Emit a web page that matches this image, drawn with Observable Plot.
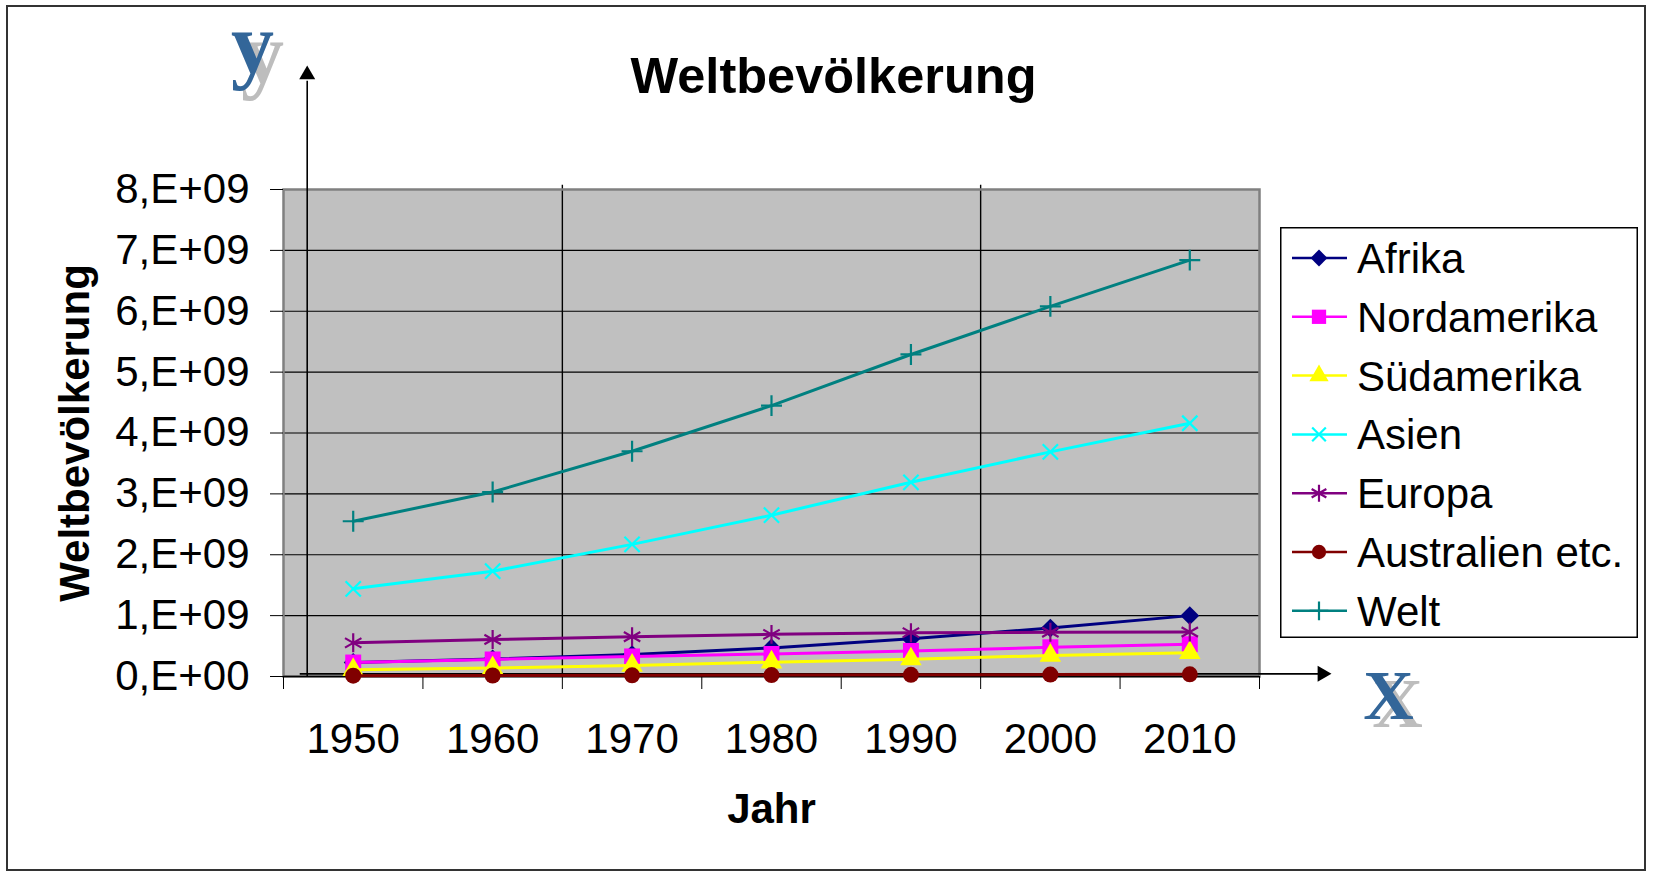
<!DOCTYPE html>
<html>
<head>
<meta charset="utf-8">
<script src="https://cdn.jsdelivr.net/npm/d3@7"></script>
<script src="https://cdn.jsdelivr.net/npm/@observablehq/plot@0.6"></script>
<style>
  body { margin: 0; background: #fff; }
  #wrap { position: relative; width: 1653px; height: 872px; overflow: hidden; font-family: 'Liberation Sans', Arial, sans-serif; }
  #border { position: absolute; left: 6px; top: 5px; width: 1640px; height: 866px; box-sizing: border-box; border: 2px solid #333; pointer-events: none; }
</style>
</head>
<body>
<div id="wrap"><div id="border"></div></div>
<script>
// ---- data ----
const years = [1950, 1960, 1970, 1980, 1990, 2000, 2010];
const afrika      = [0.229e9, 0.287e9, 0.360e9, 0.468e9, 0.622e9, 0.795e9, 1.000e9];
const nordamerika = [0.230e9, 0.280e9, 0.330e9, 0.370e9, 0.420e9, 0.480e9, 0.530e9];
const suedamerika = [0.110e9, 0.140e9, 0.180e9, 0.235e9, 0.285e9, 0.345e9, 0.390e9];
const asien       = [1.44e9, 1.73e9, 2.17e9, 2.65e9, 3.19e9, 3.69e9, 4.16e9];
const europa      = [0.553e9, 0.608e9, 0.652e9, 0.692e9, 0.720e9, 0.726e9, 0.730e9];
const australien  = [0.013e9, 0.016e9, 0.019e9, 0.023e9, 0.027e9, 0.031e9, 0.036e9];
const welt        = [2.55e9, 3.03e9, 3.70e9, 4.45e9, 5.29e9, 6.08e9, 6.84e9];

const seriesNames = ["Afrika", "Nordamerika", "Südamerika", "Asien", "Europa", "Australien etc.", "Welt"];
const seriesValues = [afrika, nordamerika, suedamerika, asien, europa, australien, welt];

const yTicks = [0, 1e9, 2e9, 3e9, 4e9, 5e9, 6e9, 7e9, 8e9];
const xTickLabels = [1950, 1960, 1970, 1980, 1990, 2000, 2010];
const xTickMarks = [1945, 1955, 1965, 1975, 1985, 1995, 2005, 2015];
const dividerYears = [1965, 1995];

const titleText = "Weltbevölkerung";
const yLabelText = "Weltbevölkerung";
const xLabelText = "Jahr";
const yLetter = "y";
const xLetter = "X";

// hand-drawn axis arrows (data coordinates)
const vArrowYear = 1946.7, vArrowTop = 9.78e9, vArrowHead = 9.886e9;
const hArrowValue = 0.044e9, hArrowStart = 1946.2, hArrowEnd = 2019.4, hArrowHead = 2019.5;

// ---- styles ----
const colors  = ["#000080", "#FF00FF", "#FFFF00", "#00FFFF", "#800080", "#800000", "#008080"];
const symbols = ["diamond2", "square", "triangle", "times", "asterisk", "circle", "plus"];
const radii   = [8.5, 9.0, 8.0, 7.0, 9.0, 8.0, 6.8];
const strokeSymbols = new Set(["times", "asterisk", "plus"]);
const d3Symbols = {
  diamond2: d3.symbolDiamond2, square: d3.symbolSquare, triangle: d3.symbolTriangle,
  times: d3.symbolTimes, asterisk: d3.symbolAsterisk, circle: d3.symbolCircle, plus: d3.symbolPlus
};

const rows = seriesNames.map((name, s) =>
  years.map((year, i) => ({ series: name, year, value: seriesValues[s][i] }))
);

const seriesMarks = [];
rows.forEach((data, s) => {
  seriesMarks.push(Plot.line(data, { x: "year", y: "value", stroke: colors[s], strokeWidth: 3 }));
  const isStroke = strokeSymbols.has(symbols[s]);
  seriesMarks.push(Plot.dot(data, {
    x: "year", y: "value", symbol: () => symbols[s], r: radii[s],
    fill: isStroke ? "none" : colors[s],
    stroke: isStroke ? colors[s] : "none",
    strokeWidth: isStroke ? 2.2 : 0
  }));
});

const serif = "'Liberation Serif', 'Times New Roman', serif";
const txt = { text: d => d, textAnchor: "middle", lineAnchor: "middle", fill: "#000" };

const chart = Plot.plot({
  width: 1653, height: 872,
  marginLeft: 283, marginRight: 394, marginTop: 189, marginBottom: 196,
  style: { fontFamily: "'Liberation Sans', Arial, sans-serif", fontSize: "42px", color: "#000", background: "transparent", overflow: "visible", position: "absolute", left: "0px", top: "0px" },
  x: { domain: [1945, 2015], label: null },
  y: { domain: [0, 8e9], label: null },
  symbol: { type: "identity" },
  marks: [
    Plot.frame({ fill: "#C0C0C0", stroke: "none" }),
    Plot.ruleY(yTicks.slice(1, -1), { stroke: "#000", strokeWidth: 1.2 }),
    Plot.ruleX(dividerYears, { y1: 0, y2: 8.07e9, stroke: "#000", strokeWidth: 1.4 }),
    Plot.frame({ stroke: "#808080", strokeWidth: 2.5 }),
    Plot.ruleY([0], { stroke: "#000", strokeWidth: 1.5 }),
    Plot.axisY({ ticks: yTicks, tickSize: 13, tickPadding: 21, fontSize: 42, label: null,
      tickFormat: d => d === 0 ? "0,E+00" : `${d / 1e9},E+09` }),
    Plot.axisX({ ticks: xTickMarks, tickSize: 13, tickFormat: () => "", label: null }),
    Plot.axisX({ ticks: xTickLabels, tickSize: 0, tickPadding: 47, fontSize: 42, label: null,
      tickFormat: d => `${d}` }),
    // hand-drawn arrows
    Plot.ruleX([vArrowYear], { y1: 0, y2: vArrowTop, stroke: "#000", strokeWidth: 1.6 }),
    Plot.dot([vArrowYear], { x: d => d, y: () => vArrowHead, symbol: "triangle", r: 5.94, fill: "#000", stroke: "none" }),
    Plot.ruleY([hArrowValue], { x1: hArrowStart, x2: hArrowEnd, stroke: "#000", strokeWidth: 1.8 }),
    Plot.dot([hArrowHead], { x: d => d, y: () => hArrowValue, symbol: "triangle", rotate: 90, r: 5.94, fill: "#000", stroke: "none" }),
    ...seriesMarks,
    // texts
    Plot.text([titleText], { ...txt, frameAnchor: "top", dx: 62, dy: -112.7, fontSize: 50.5, fontWeight: "bold" }),
    Plot.text([xLabelText], { ...txt, frameAnchor: "bottom", dx: 0, dy: 132.6, fontSize: 42, fontWeight: "bold" }),
    Plot.text([yLabelText], { ...txt, frameAnchor: "left", dx: -208.4, dy: 0, rotate: -90, fontSize: 42, fontWeight: "bold" }),
    Plot.text([yLetter], { ...txt, frameAnchor: "top-left", dx: -21, dy: -135.5, fontSize: 86, fontWeight: "bold", fontFamily: serif, fill: "#BDBDBD" }),
    Plot.text([yLetter], { ...txt, frameAnchor: "top-left", dx: -31, dy: -145.5, fontSize: 86, fontWeight: "bold", fontFamily: serif, fill: "#336699" }),
    Plot.text([xLetter], { ...txt, frameAnchor: "bottom-right", dx: 138, dy: 27.6, fontSize: 70, fontWeight: "bold", fontFamily: serif, fill: "#BDBDBD" }),
    Plot.text([xLetter], { ...txt, frameAnchor: "bottom-right", dx: 129, dy: 19.6, fontSize: 70, fontWeight: "bold", fontFamily: serif, fill: "#336699" })
  ]
});

const wrap = document.getElementById("wrap");
wrap.insertBefore(chart, wrap.firstChild);

// ---- legend ----
const leg = d3.create("svg").attr("width", 358).attr("height", 411)
  .style("position", "absolute").style("left", "1280px").style("top", "227px");
leg.append("rect").attr("x", 0.75).attr("y", 0.75).attr("width", 356.5).attr("height", 409.5)
  .attr("fill", "#fff").attr("stroke", "#000").attr("stroke-width", 1.5);
seriesNames.forEach((name, s) => {
  const cy = 31 + s * 58.8;
  const g = leg.append("g");
  g.append("line").attr("x1", 12).attr("x2", 67).attr("y1", cy).attr("y2", cy)
    .attr("stroke", colors[s]).attr("stroke-width", 2.5);
  const isStroke = strokeSymbols.has(symbols[s]);
  g.append("path")
    .attr("d", d3.symbol(d3Symbols[symbols[s]], Math.PI * radii[s] * radii[s] * 0.8)())
    .attr("transform", `translate(39,${cy})`)
    .attr("fill", isStroke ? "none" : colors[s])
    .attr("stroke", isStroke ? colors[s] : "none")
    .attr("stroke-width", 2.2);
  g.append("text").attr("x", 77).attr("y", cy + 15)
    .attr("font-family", "'Liberation Sans', Arial, sans-serif").attr("font-size", 42)
    .attr("fill", "#000").text(name);
});
wrap.appendChild(leg.node());
</script>
</body>
</html>
